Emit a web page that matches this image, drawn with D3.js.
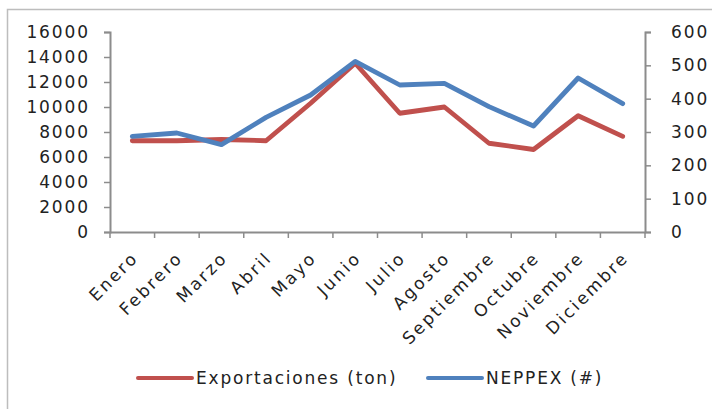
<!DOCTYPE html>
<html>
<head>
<meta charset="utf-8">
<script src="https://cdn.jsdelivr.net/npm/d3@7"></script>
<style>
  body { margin: 0; background: #fff; }
  text { font-family: "DejaVu Sans", sans-serif; fill: #222; }
</style>
</head>
<body>
<svg id="chart" width="712" height="409"></svg>
<script>
// data
var months = ["Enero", "Febrero", "Marzo", "Abril", "Mayo", "Junio", "Julio",
              "Agosto", "Septiembre", "Octubre", "Noviembre", "Diciembre"];
var exportaciones = [7300, 7300, 7400, 7300, 10300, 13500, 9500, 10000, 7100, 6600, 9300, 7650];
var neppex = [287, 297, 262, 344, 411, 512, 441, 446, 376, 318, 462, 385];
var leftTicks = [0, 2000, 4000, 6000, 8000, 10000, 12000, 14000, 16000];
var rightTicks = [0, 100, 200, 300, 400, 500, 600];

var svg = d3.select("#chart");
var margin = {top: 32, left: 110, right: 67, bottom: 177};
var width = 712 - margin.left - margin.right,
    height = 409 - margin.top - margin.bottom;

var fs = 17, ls = 1.9;

// frame (only top and left edges show in the picture)
svg.append("path")
    .attr("d", "M7.5,409V9.5H712")
    .attr("fill", "none")
    .attr("stroke", "#bdbdbd")
    .attr("stroke-width", 1.5);

var g = svg.append("g")
    .attr("transform", "translate(" + margin.left + "," + margin.top + ")");

var x = d3.scaleBand().domain(months).range([0, width]);
var yL = d3.scaleLinear().domain([0, 16000]).range([height, 0]);
var yR = d3.scaleLinear().domain([0, 600]).range([height, 0]);

var axisColor = "#8c8c8c";

// left axis
var gl = g.append("g")
    .call(d3.axisLeft(yL).tickValues(leftTicks).tickSize(6).tickPadding(14).tickFormat(d3.format("d")));
// right axis
var gr = g.append("g")
    .attr("transform", "translate(" + width + ",0)")
    .call(d3.axisRight(yR).tickValues(rightTicks).tickSize(6).tickPadding(20));
// bottom axis, ticks on category boundaries
var gb = g.append("g")
    .attr("transform", "translate(0," + height + ")")
    .call(d3.axisBottom(x).tickSize(0).tickFormat(""));
gb.selectAll(".bound")
    .data(d3.range(months.length + 1))
  .enter().append("line")
    .attr("x1", function(i) { return i * x.step(); })
    .attr("x2", function(i) { return i * x.step(); })
    .attr("y1", 0).attr("y2", 6)
    .attr("stroke", axisColor).attr("stroke-width", 1.5);

[gl, gr, gb].forEach(function(a) {
  a.selectAll(".domain").attr("stroke", axisColor).attr("stroke-width", 2);
  a.selectAll(".tick line").attr("stroke", axisColor).attr("stroke-width", 1.5);
  a.selectAll("text").attr("font-size", fs).attr("letter-spacing", ls)
      .style("font-family", "DejaVu Sans").attr("fill", "#222");
});

// month labels rotated
g.selectAll(".mlabel")
    .data(months)
  .enter().append("text")
    .attr("class", "mlabel")
    .attr("font-size", fs)
    .attr("letter-spacing", 2.4)
    .attr("text-anchor", "end")
    .attr("transform", function(d) {
      return "translate(" + (x(d) + x.bandwidth() / 2 + 7) + "," + (height + 27) + ") rotate(-45)";
    })
    .text(function(d) { return d; });

// lines
var lineL = d3.line()
    .x(function(d, i) { return x(months[i]) + x.bandwidth() / 2; })
    .y(function(d) { return yL(d); });
var lineR = d3.line()
    .x(function(d, i) { return x(months[i]) + x.bandwidth() / 2; })
    .y(function(d) { return yR(d); });

g.append("path").datum(exportaciones)
    .attr("d", lineL)
    .attr("fill", "none").attr("stroke", "#C0504D")
    .attr("stroke-width", 4.8).attr("stroke-linejoin", "round").attr("stroke-linecap", "round");
g.append("path").datum(neppex)
    .attr("d", lineR)
    .attr("fill", "none").attr("stroke", "#4F81BD")
    .attr("stroke-width", 4.8).attr("stroke-linejoin", "round").attr("stroke-linecap", "round");

// legend
var legend = [
  {name: "Exportaciones (ton)", color: "#C0504D", x: 138},
  {name: "NEPPEX (#)", color: "#4F81BD", x: 428}
];
var lg = svg.selectAll(".legend")
    .data(legend)
  .enter().append("g")
    .attr("transform", function(d) { return "translate(" + d.x + ",378)"; });
lg.append("line")
    .attr("x1", 0).attr("x2", 54)
    .attr("stroke", function(d) { return d.color; })
    .attr("stroke-width", 4).attr("stroke-linecap", "round");
lg.append("text")
    .attr("x", 58).attr("y", 6)
    .attr("font-size", fs).attr("letter-spacing", 1.8)
    .text(function(d) { return d.name; });
</script>
</body>
</html>
